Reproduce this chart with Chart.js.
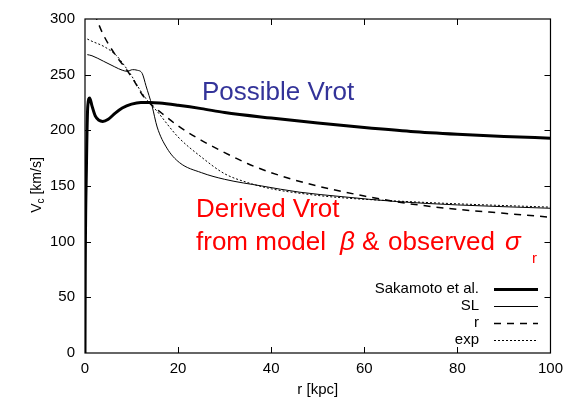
<!DOCTYPE html>
<html lang="en">
<head>
<meta charset="UTF-8">
<title>Rotation curve</title>
<script src="https://cdn.jsdelivr.net/npm/chart.js"></script>
<style>
  html, body { margin: 0; padding: 0; background: #fff; }
</style>
</head>
<body>
<canvas id="vcChart" width="570" height="404"></canvas>
<script>
// radius [kpc] / circular velocity [km/s]
const sakamotoR = [0, 0.05, 0.3, 0.6, 1.0, 1.5, 2.2, 3.0, 3.8, 5, 6.5, 8, 10, 12, 14, 16, 20, 25, 30, 40, 50, 60, 70, 80, 90, 100];
const sakamotoV = [0, 70, 165, 222, 229, 222, 213, 209, 208, 210, 215.5, 220, 223.5, 225, 225, 224.5, 222.5, 219.5, 216, 211, 206.5, 202.5, 199, 196.5, 194.5, 193];

const slR = [0.5, 1.5, 4, 6.4, 8, 9.1, 10.2, 11.2, 12.3, 13.1, 14.4, 15.5, 17.6, 20.3, 25, 30, 38, 46, 55, 67, 80, 100];
const slV = [268, 267, 262, 257, 254, 253, 254.5, 254, 251, 240, 222, 203, 184, 171, 162, 156, 150, 144.5, 140.5, 136, 133, 130];

const rR = [1, 2.5, 3.8, 6.8, 8.5, 10.6, 12.3, 14, 16, 20, 25, 30, 35, 40, 48, 60, 69, 80, 90, 100];
const rV = [316, 300, 287, 266, 257, 244, 232, 224, 217, 204, 191, 180, 170, 162, 152, 141, 134.5, 129, 125.5, 122];

const expR = [0.5, 1.5, 4.2, 6.8, 8.5, 10, 11.7, 13, 15.5, 20, 25, 30, 35, 40, 48, 55, 67, 80, 100];
const expV = [282, 280, 275, 267, 258, 249, 237, 229, 217, 194, 176, 161, 153, 147.5, 142.5, 139.5, 136.5, 134, 131];

const xTicks = [0, 20, 40, 60, 80, 100];
const yTicks = [0, 50, 100, 150, 200, 250, 300];

const seriesNames = ['Sakamoto et al.', 'SL', 'r', 'exp'];

function pts(xs, ys) {
    return xs.map((x, i) => ({ x: x, y: ys[i] }));
}

const FONT = '"Liberation Sans", Arial, sans-serif';

// frame, inward ticks, axis titles, annotations and legend
const decorations = {
    id: 'decorations',
    afterDraw(chart) {
        const ctx = chart.ctx;
        const a = chart.chartArea;
        const xs = chart.scales.x, ys = chart.scales.y;
        ctx.save();
        ctx.strokeStyle = '#000';
        ctx.lineWidth = 1.2;
        ctx.strokeRect(a.left, a.top, a.right - a.left, a.bottom - a.top);

        ctx.lineWidth = 1;
        ctx.beginPath();
        xTicks.slice(1, -1).forEach(v => {
            const px = Math.round(xs.getPixelForValue(v)) + 0.5;
            ctx.moveTo(px, a.bottom); ctx.lineTo(px, a.bottom - 6);
            ctx.moveTo(px, a.top); ctx.lineTo(px, a.top + 6);
        });
        yTicks.slice(1, -1).forEach(v => {
            const py = Math.round(ys.getPixelForValue(v)) + 0.5;
            ctx.moveTo(a.left, py); ctx.lineTo(a.left + 6, py);
            ctx.moveTo(a.right, py); ctx.lineTo(a.right - 6, py);
        });
        ctx.stroke();

        // axis titles
        ctx.fillStyle = '#000';
        ctx.font = '15px ' + FONT;
        ctx.textAlign = 'center';
        ctx.textBaseline = 'middle';
        ctx.fillText('r [kpc]', (a.left + a.right) / 2, 390);

        ctx.save();
        ctx.translate(36, 185);
        ctx.rotate(-Math.PI / 2);
        ctx.textAlign = 'left';
        ctx.textBaseline = 'alphabetic';
        ctx.font = '14px ' + FONT;
        const w1 = ctx.measureText('V').width;
        ctx.font = '10px ' + FONT;
        const w2 = ctx.measureText('c').width;
        ctx.font = '14px ' + FONT;
        const w3 = ctx.measureText(' [km/s]').width;
        const x0 = -(w1 + w2 + w3) / 2;
        ctx.fillText('V', x0, 5);
        ctx.font = '10px ' + FONT;
        ctx.fillText('c', x0 + w1, 8);
        ctx.font = '14px ' + FONT;
        ctx.fillText(' [km/s]', x0 + w1 + w2, 5);
        ctx.restore();

        // annotations
        ctx.textAlign = 'left';
        ctx.textBaseline = 'alphabetic';
        ctx.font = '26px ' + FONT;
        ctx.fillStyle = '#333399';
        ctx.fillText('Possible Vrot', 202, 100);
        ctx.fillStyle = '#ff0000';
        ctx.fillText('Derived Vrot', 196, 217);
        ctx.fillText('from model', 196, 250);
        ctx.font = 'italic 26px ' + FONT;
        ctx.fillText('\u03B2', 340, 250);
        ctx.font = '26px ' + FONT;
        ctx.fillText('&', 362, 250);
        ctx.fillText('observed', 388, 250);
        ctx.font = 'italic 26px ' + FONT;
        ctx.fillText('\u03C3', 505, 250);
        ctx.font = '15px ' + FONT;
        ctx.fillText('r', 532, 263);

        // legend
        ctx.font = '15px ' + FONT;
        ctx.fillStyle = '#000';
        ctx.textAlign = 'right';
        ctx.textBaseline = 'middle';
        const rows = [289, 306, 323, 340];
        chart.data.datasets.forEach((ds, i) => {
            ctx.fillText(seriesNames[i], 479, rows[i]);
            ctx.beginPath();
            ctx.lineWidth = ds.borderWidth;
            ctx.setLineDash(ds.borderDash || []);
            ctx.moveTo(494, rows[i] + 0.5);
            ctx.lineTo(538, rows[i] + 0.5);
            ctx.stroke();
        });
        ctx.restore();
    }
};

new Chart(document.getElementById('vcChart'), {
    type: 'line',
    data: {
        datasets: [
            { label: seriesNames[0], data: pts(sakamotoR, sakamotoV), borderColor: '#000', borderWidth: 3 },
            { label: seriesNames[1], data: pts(slR, slV), borderColor: '#000', borderWidth: 1 },
            { label: seriesNames[2], data: pts(rR, rV), borderColor: '#000', borderWidth: 1.5, borderDash: [7, 6] },
            { label: seriesNames[3], data: pts(expR, expV), borderColor: '#000', borderWidth: 1, borderDash: [2, 2] }
        ]
    },
    options: {
        responsive: false,
        animation: false,
        devicePixelRatio: 1,
        layout: { padding: { top: 15, right: 13, left: 0, bottom: 0 } },
        elements: {
            point: { radius: 0 },
            line: { cubicInterpolationMode: 'monotone', fill: false }
        },
        plugins: {
            legend: { display: false },
            tooltip: { enabled: false }
        },
        scales: {
            x: {
                type: 'linear', min: 0, max: 100,
                grid: { display: false, drawTicks: false },
                border: { display: false },
                ticks: { stepSize: 20, color: '#000', font: { size: 15, family: FONT }, padding: 7, maxRotation: 0 },
                afterFit: s => { s.height = 51; }
            },
            y: {
                min: 0, max: 300,
                grid: { display: false, drawTicks: false },
                border: { display: false },
                ticks: { stepSize: 50, color: '#000', font: { size: 15, family: FONT }, padding: 10 },
                afterFit: s => { s.width = 85; }
            }
        }
    },
    plugins: [decorations]
});
</script>
</body>
</html>
